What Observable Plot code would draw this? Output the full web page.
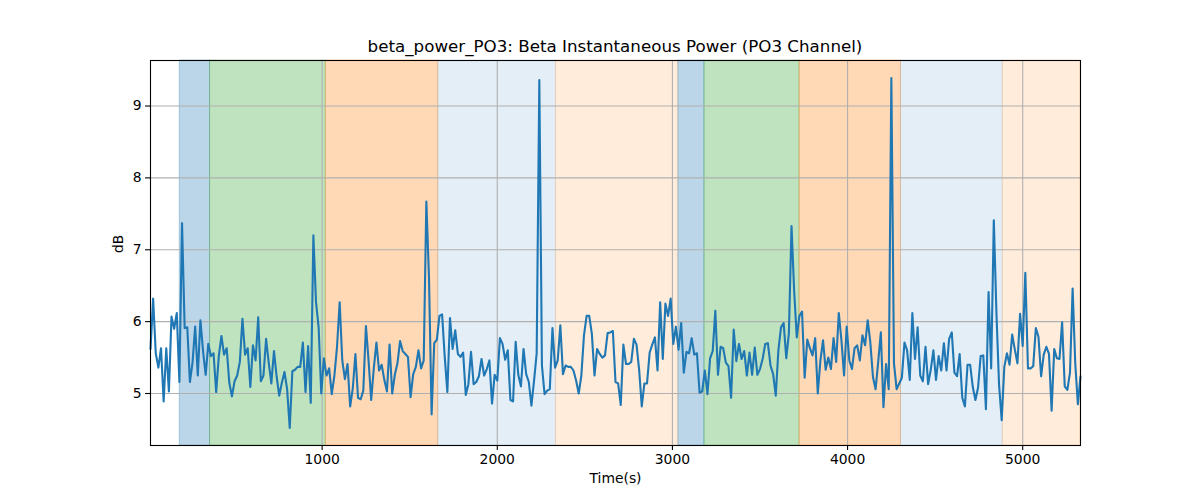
<!DOCTYPE html>
<html>
<head>
<meta charset="utf-8">
<script src="https://cdn.jsdelivr.net/npm/d3@7"></script>
<script src="https://cdn.jsdelivr.net/npm/@observablehq/plot@0.6"></script>
<style>
  html, body { margin: 0; padding: 0; background: #fff; }
  #wrap { width: 1200px; height: 500px; position: relative; font-family: "DejaVu Sans", sans-serif; }
  #title { height: 59px; box-sizing: border-box; padding-top: 36px; line-height: 20px; font-size: 16.7px; text-align: center; padding-left: 30px; color: #000; }
  svg { display: block; }
</style>
</head>
<body>
<div id="wrap">
  <div id="title">beta_power_PO3: Beta Instantaneous Power (PO3 Channel)</div>
  <div id="chart"></div>
</div>
<script>
// Sampling of the series (seconds)
const startTime = 20;
const stepTime = 15;

// Beta instantaneous power, dB
const powerDb = [
  5.62,
  6.32,5.56,5.36,5.63,4.89,5.63,5.03,6.07,5.9,6.12,5.16,7.37,5.91,5.92,5.16,5.43,5.93,5.25,6.02,5.59,
  5.26,5.69,5.52,5.56,5.02,5.52,5.8,5.54,5.63,5.15,4.96,5.17,5.25,5.44,6.04,5.54,5.63,5.09,5.67,5.46,
  6.06,5.17,5.25,5.76,5.43,5.14,5.59,5.24,4.97,5.15,5.3,5.06,4.52,5.31,5.33,5.37,5.37,5.71,5.02,5.66,
  4.87,7.2,6.27,5.92,5.0,5.49,5.25,5.35,4.99,5.25,5.65,6.27,5.46,5.2,5.41,4.82,5.07,5.55,4.94,4.92,
  5.04,5.94,5.46,4.91,5.35,5.71,5.32,5.4,5.19,5.03,5.68,5.0,5.26,5.42,5.73,5.59,5.55,5.51,4.95,5.27,
  5.37,5.6,5.35,5.46,7.67,6.62,4.71,5.7,5.75,6.08,6.1,5.51,5.02,6.05,5.62,5.88,5.55,
  5.51,5.57,4.98,5.13,5.58,5.13,5.16,5.24,5.48,5.25,5.34,5.46,4.86,5.26,5.18,5.77,5.69,5.47,5.6,4.91,
  4.89,5.72,5.26,5.1,5.62,5.27,5.16,4.83,5.18,5.56,9.36,5.39,4.99,5.04,5.06,5.91,5.36,5.46,5.95,5.27,
  5.39,5.37,5.37,5.32,5.18,5.0,5.25,5.81,6.08,6.08,5.83,5.25,5.62,5.55,5.5,5.53,5.84,
  5.85,5.87,5.16,5.14,4.84,5.68,5.41,5.41,5.44,5.76,5.68,5.33,4.82,5.14,5.14,5.57,5.68,5.78,5.32,6.27,
  5.48,6.25,6.08,6.32,5.69,5.93,5.61,5.98,5.29,5.58,5.56,5.77,5.54,5.56,5.01,5.03,5.32,4.99,5.49,5.59,
  6.15,5.26,5.65,5.63,5.43,5.38,4.94,5.89,5.45,5.69,5.48,5.59,5.25,5.57,5.26,5.64,5.26,
  5.34,5.48,5.69,5.7,5.39,5.27,4.97,5.6,5.92,5.98,5.49,5.84,7.33,6.43,5.78,6.08,6.14,5.22,5.75,5.63,
  5.53,5.77,5.0,5.46,5.74,5.33,5.5,5.34,5.77,5.44,6.12,5.74,5.25,5.93,5.46,5.34,5.63,5.67,5.46,5.81,
  5.67,6.02,5.71,5.23,5.06,5.44,5.85,4.81,5.41,5.06,9.39,5.42,5.06,5.14,5.22,5.71,5.6,
  5.19,6.12,5.48,5.92,5.25,5.17,5.65,5.13,5.33,5.6,5.19,5.52,5.32,5.7,5.32,5.76,5.85,5.29,5.24,5.55,
  4.94,4.82,5.4,5.4,5.09,4.91,5.08,5.52,5.53,4.78,6.41,5.35,7.41,6.12,5.12,4.63,5.37,5.56,5.4,5.82,
  5.61,5.42,6.11,5.66,6.68,5.35,5.35,5.38,5.91,5.79,5.24,5.54,5.65,5.55,4.76,5.62,5.49,5.48,5.99,5.1,
  5.05,5.29,6.46,5.42,4.85,5.24
];

// Shaded periods
const bandStart = [187, 360, 1021, 1663, 2335, 3034, 3183, 3726, 4305, 4886];
const bandEnd   = [360, 1021, 1663, 2335, 3034, 3183, 3726, 4305, 4886, 5330];
const bandKind  = ["blue", "green", "orange", "lightblue", "lightorange",
                   "blue", "green", "orange", "lightblue", "lightorange"];
const kindColor   = {blue: "#1f77b4", green: "#2ca02c", orange: "#ff7f0e", lightblue: "#1f77b4", lightorange: "#ff7f0e"};
const kindOpacity = {blue: 0.3, green: 0.3, orange: 0.3, lightblue: 0.12, lightorange: 0.15};

// Ticks
const xTicks = [1000, 2000, 3000, 4000, 5000];
const yTicks = [5, 6, 7, 8, 9];

const series = powerDb.map((v, i) => ({t: startTime + i * stepTime, v}));
const bands = bandStart.map((s, i) => ({
  x1: s, x2: bandEnd[i],
  color: kindColor[bandKind[i]], op: kindOpacity[bandKind[i]]
}));

const [vmin, vmax] = d3.extent(powerDb);
const pad = (vmax - vmin) * 0.05;
const xDomain = d3.extent(series, d => d.t);

const chart = Plot.plot({
  width: 1200,
  height: 441,
  marginLeft: 150,
  marginRight: 120,
  marginTop: 1,
  marginBottom: 55,
  style: {fontFamily: "DejaVu Sans, sans-serif", fontSize: "13.9px", color: "#000", background: "#fff"},
  x: {domain: xDomain},
  y: {domain: [vmin - pad, vmax + pad]},
  marks: [
    Plot.rect(bands, {x1: "x1", x2: "x2", fill: d => d.color, fillOpacity: d => d.op,
      stroke: d => d.color, strokeOpacity: d => d.op, strokeWidth: 1}),
    Plot.gridX(xTicks, {stroke: "#b0b0b0", strokeOpacity: 1, strokeWidth: 1.1}),
    Plot.gridY(yTicks, {stroke: "#b0b0b0", strokeOpacity: 1, strokeWidth: 1.1}),
    Plot.line(series, {x: "t", y: "v", stroke: "#1f77b4", strokeWidth: 2.1, strokeLinejoin: "round"}),
    Plot.axisX(xTicks, {tickSize: 4.9, tickPadding: 4, tickFormat: d3.format("d"), label: null, strokeWidth: 1.1}),
    Plot.axisY(yTicks, {tickSize: 4.9, tickPadding: 4, tickFormat: d3.format("d"), label: null, strokeWidth: 1.1}),
    Plot.frame({stroke: "#000", strokeWidth: 1.1}),
    Plot.text(["Time(s)"], {frameAnchor: "bottom", dy: 37, fontSize: 13.9, fill: "#000"}),
    Plot.text(["dB"], {frameAnchor: "left", dx: -32, rotate: -90, fontSize: 13.9, fill: "#000"})
  ]
});
document.getElementById("chart").appendChild(chart);
</script>
</body>
</html>
